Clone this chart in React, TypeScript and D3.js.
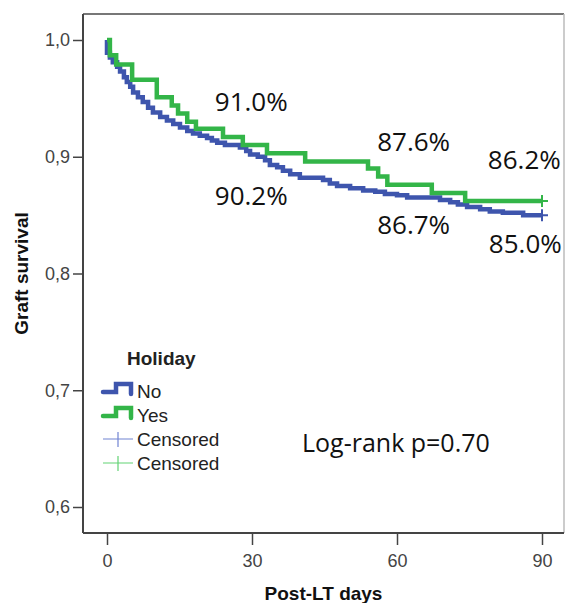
import { useEffect, useRef } from 'react'
import * as d3 from 'd3'

// Kaplan-Meier steps (day, survival from that day on)
const noDays = [0, 0, 0.6, 1.2, 2.1, 2.7, 3.5, 4.1, 4.8, 5.4, 6.4, 7.4, 8.5, 9.5, 11.0, 12.4, 13.7, 15.1, 16.6, 17.8, 19.2, 20.7, 21.7, 22.8, 24.4, 27.5, 28.8, 29.6, 31.2, 32.7, 33.7, 35.2, 36.4, 37.9, 39.9, 44.7, 46.1, 47.6, 50.3, 53.0, 55.5, 57.5, 60.0, 62.1, 68.9, 71.0, 72.6, 74.5, 77.2, 79.2, 81.9, 86.1, 90]
const noSurv = [1.0, 0.989, 0.985, 0.981, 0.977, 0.973, 0.968, 0.964, 0.960, 0.955, 0.951, 0.947, 0.942, 0.938, 0.934, 0.931, 0.928, 0.925, 0.922, 0.920, 0.918, 0.916, 0.914, 0.912, 0.910, 0.908, 0.905, 0.902, 0.900, 0.897, 0.893, 0.891, 0.888, 0.885, 0.882, 0.880, 0.877, 0.875, 0.873, 0.871, 0.870, 0.868, 0.867, 0.865, 0.863, 0.861, 0.859, 0.857, 0.855, 0.853, 0.852, 0.850, 0.850]
const yesDays = [0, 0.6, 1.9, 5.2, 10.3, 13.4, 14.7, 16.6, 18.4, 24.0, 28.1, 33.1, 41.0, 54.0, 56.1, 58.0, 67.2, 74.1, 90]
const yesSurv = [1.0, 0.987, 0.979, 0.966, 0.951, 0.944, 0.937, 0.930, 0.924, 0.917, 0.910, 0.903, 0.896, 0.890, 0.883, 0.876, 0.869, 0.862, 0.862]

const xTicks = [0, 30, 60, 90]
const yTicks = [0.6, 0.7, 0.8, 0.9, 1.0]

// percentage annotations, anchored in data units (left edge, baseline)
const noteText = ['91.0%', '90.2%', '87.6%', '86.2%', '86.7%', '85.0%']
const noteDay = [22.3, 22.3, 55.9, 78.8, 55.9, 79.0]
const noteSurv = [0.9392, 0.8586, 0.9049, 0.8895, 0.8338, 0.8175]

const groups = ['No', 'Yes']
const colors = ['#3e55ad', '#33b548']
const censorColors = ['#7184d2', '#62d374']

export default function App() {
  const ref = useRef(null)

  useEffect(() => {
    const width = 566
    const height = 603
    const frame = { left: 83, top: 14, right: 564, bottom: 533 }

    const svg = d3.select(ref.current).attr('width', width).attr('height', height)
    svg.selectAll('*').remove()

    const x = d3.scaleLinear().domain([0, 90]).range([107, 542])
    const y = d3.scaleLinear().domain([0.6, 1.0]).range([507, 40])

    svg.append('rect').attr('width', width).attr('height', height).attr('fill', '#fff')

    // frame
    svg.append('line').attr('x1', frame.left).attr('x2', frame.right).attr('y1', frame.top).attr('y2', frame.top)
      .attr('stroke', '#777').attr('stroke-width', 2)
    svg.append('line').attr('x1', frame.right).attr('x2', frame.right).attr('y1', frame.top).attr('y2', frame.bottom)
      .attr('stroke', '#bbb').attr('stroke-width', 1.5)
    svg.append('line').attr('x1', frame.left).attr('x2', frame.left).attr('y1', frame.top).attr('y2', frame.bottom)
      .attr('stroke', '#444').attr('stroke-width', 2)
    svg.append('line').attr('x1', frame.left).attr('x2', frame.right).attr('y1', frame.bottom).attr('y2', frame.bottom)
      .attr('stroke', '#444').attr('stroke-width', 2)

    const tickStyle = (s) => {
      s.select('.domain').remove()
      s.selectAll('.tick line').attr('stroke', '#444').attr('stroke-width', 1.5)
      s.selectAll('.tick text').attr('fill', '#444').attr('font-size', '18px').attr('font-family', '"Liberation Sans", Arial, sans-serif')
    }

    svg.append('g')
      .attr('transform', `translate(${frame.left},0)`)
      .call(d3.axisLeft(y).tickValues(yTicks).tickSize(10).tickPadding(3).tickFormat((d) => d3.format('.1f')(d).replace('.', ',')))
      .call(tickStyle)

    svg.append('g')
      .attr('transform', `translate(0,${frame.bottom})`)
      .call(d3.axisBottom(x).tickValues(xTicks).tickSize(12).tickPadding(9))
      .call(tickStyle)

    // axis titles
    svg.append('text')
      .attr('x', (frame.left + frame.right) / 2).attr('y', 600)
      .attr('text-anchor', 'middle').attr('font-size', '19px').attr('font-weight', 'bold')
      .attr('font-family', '"Liberation Sans", Arial, sans-serif').attr('fill', '#111')
      .text('Post-LT days')
    svg.append('text')
      .attr('transform', `translate(28,${(frame.top + frame.bottom) / 2}) rotate(-90)`)
      .attr('text-anchor', 'middle').attr('font-size', '19px').attr('font-weight', 'bold')
      .attr('font-family', '"Liberation Sans", Arial, sans-serif').attr('fill', '#111')
      .text('Graft survival')

    // survival curves
    const line = d3.line().x((d) => x(d[0])).y((d) => y(d[1])).curve(d3.curveStepAfter)
    const series = [d3.zip(noDays, noSurv), d3.zip(yesDays, yesSurv)]
    series.forEach((pts, i) => {
      svg.append('path').attr('d', line(pts)).attr('fill', 'none')
        .attr('stroke', colors[i]).attr('stroke-width', 4.5).attr('stroke-linejoin', 'miter')
      const last = pts[pts.length - 1]
      svg.append('path')
        .attr('d', `M${x(last[0]) - 6},${y(last[1])}h12M${x(last[0])},${y(last[1]) - 6}v12`)
        .attr('stroke', colors[i]).attr('stroke-width', 2)
    })

    // annotations
    svg.append('g').selectAll('text').data(noteText).join('text')
      .attr('x', (d, i) => x(noteDay[i])).attr('y', (d, i) => y(noteSurv[i]))
      .attr('font-size', '26px').attr('font-family', '"Open Sans", sans-serif').attr('fill', '#111')
      .text((d) => d)
    svg.append('text')
      .attr('x', 302).attr('y', 452)
      .attr('font-size', '25px').attr('font-family', '"Open Sans", sans-serif').attr('fill', '#111')
      .text('Log-rank p=0.70')

    // legend
    const lg = svg.append('g').attr('font-family', '"Liberation Sans", Arial, sans-serif').attr('fill', '#222')
    lg.append('text').attr('x', 127).attr('y', 365).attr('font-size', '19px').attr('font-weight', 'bold').text('Holiday')
    groups.forEach((g, i) => {
      const by = 392 + i * 24
      lg.append('path')
        .attr('d', `M103,${by}H116V${by - 8}H131V${by + 2}`)
        .attr('fill', 'none').attr('stroke', colors[i]).attr('stroke-width', 4.5).attr('stroke-linecap', 'round')
      lg.append('text').attr('x', 137).attr('y', by + 6).attr('font-size', '19px').text(g)
      const cy = 439 + i * 24
      lg.append('path')
        .attr('d', `M103,${cy}H133M118,${cy - 7}V${cy + 8}`)
        .attr('stroke', censorColors[i]).attr('stroke-width', 1.2)
      lg.append('text').attr('x', 137).attr('y', cy + 7).attr('font-size', '19px').text('Censored')
    })
  }, [])

  return <svg ref={ref} style={{ position: 'absolute', left: 0, top: 0, display: 'block' }} />
}
